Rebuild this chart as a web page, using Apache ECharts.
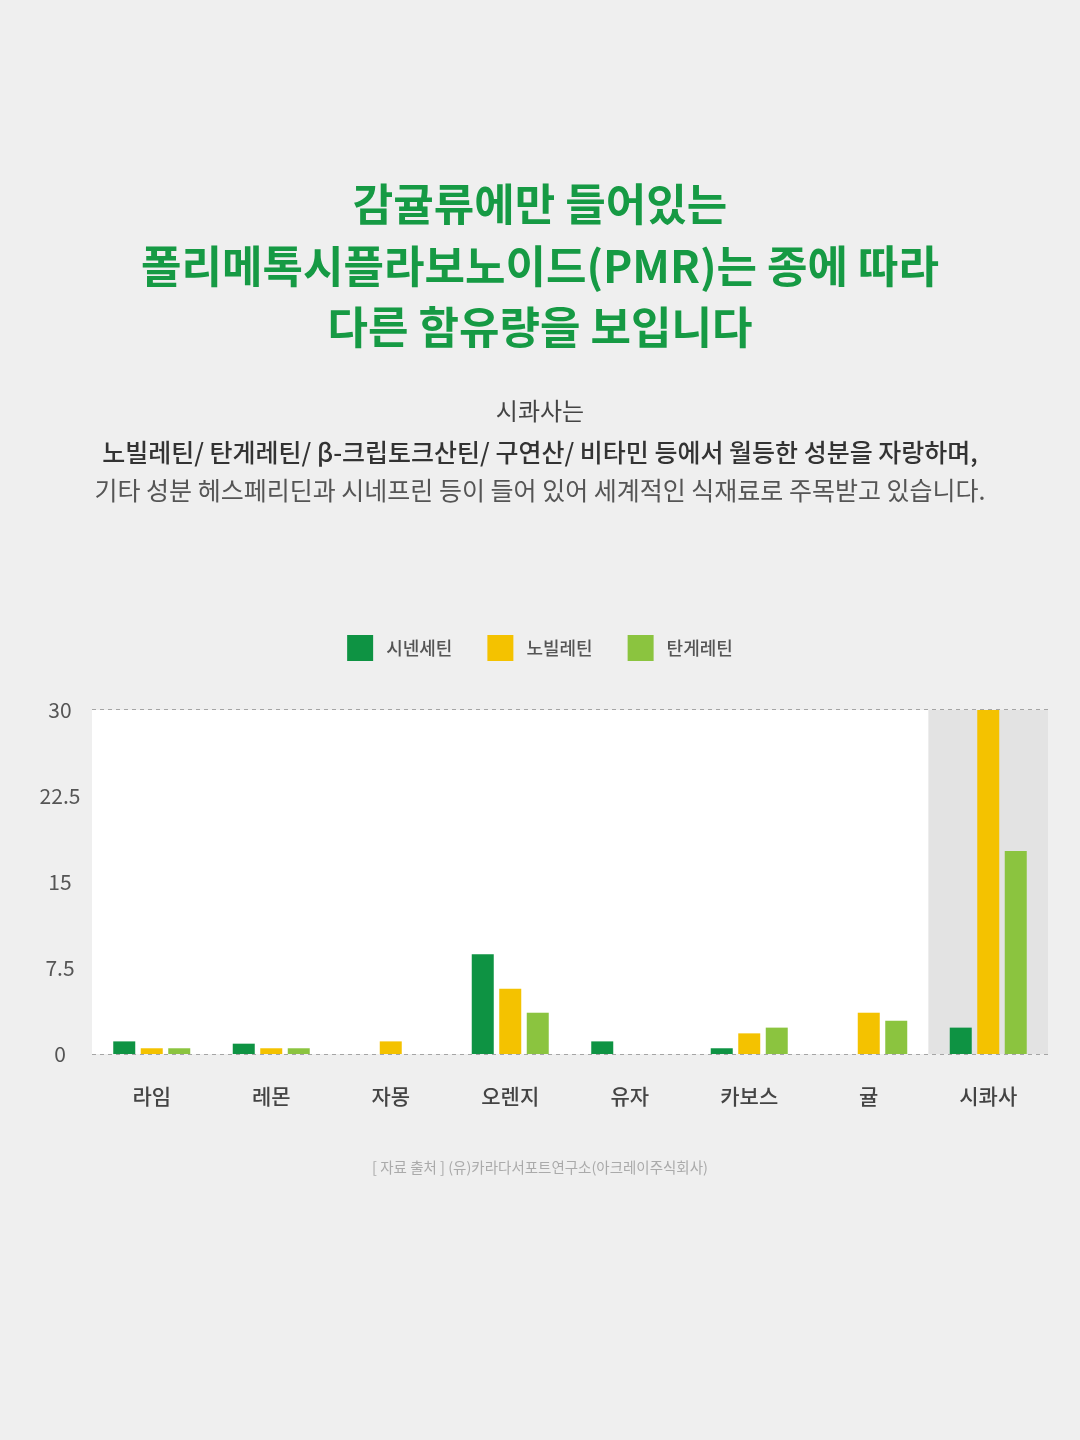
<!DOCTYPE html>
<html>
<head>
<meta charset="utf-8">
<script src="https://cdn.jsdelivr.net/npm/echarts@6/dist/echarts.min.js"></script>
<style>
  body { margin: 0; background: #efefef; }
  #chartContainer { width: 1080px; height: 1440px; }
</style>
</head>
<body>
<div id="chartContainer"></div>
<script>
const categories = ['라임', '레몬', '자몽', '오렌지', '유자', '카보스', '귤', '시콰사'];
const seriesNames = ['시넨세틴', '노빌레틴', '탄게레틴'];
const sinensetin = [1.1, 0.9, 0, 8.7, 1.1, 0.5, 0, 2.3];
const nobiletin = [0.5, 0.5, 1.1, 5.7, 0, 1.8, 3.6, 30];
const tangeretin = [0.5, 0.5, 0, 3.6, 0, 2.3, 2.9, 17.7];

const titleLines = ['감귤류에만 들어있는', '폴리메톡시플라보노이드(PMR)는 종에 따라', '다른 함유량을 보입니다'];
const subLines = [
    '시콰사는',
    '노빌레틴/ 탄게레틴/ β-크립토크산틴/ 구연산/ 비타민 등에서 월등한 성분을 자랑하며,',
    '기타 성분 헤스페리딘과 시네프린 등이 들어 있어 세계적인 식재료로 주목받고 있습니다.'
];
const sourceText = '[ 자료 출처 ] (유)카라다서포트연구소(아크레이주식회사)';

const font = '"Noto Sans CJK KR", "Noto Sans", sans-serif';
const colors = ['#0e9343', '#f4c200', '#8bc43f'];

function textEl(text, y, size, weight, color) {
    return {
        type: 'text',
        left: 'center',
        top: y,
        style: { text: text, fontFamily: font, fontSize: size, fontWeight: weight, fill: color }
    };
}

const myChart = echarts.init(document.getElementById('chartContainer'));

const option = {
    backgroundColor: '#efefef',
    animation: false,
    color: colors,
    graphic: [
        textEl(titleLines[0], 182, 44, 'bold', '#169a44'),
        textEl(titleLines[1], 244, 44, 'bold', '#169a44'),
        textEl(titleLines[2], 305, 44, 'bold', '#169a44'),
        textEl(subLines[0], 399, 24, 'normal', '#444'),
        textEl(subLines[1], 440, 25, 500, '#333'),
        textEl(subLines[2], 478, 25, 'normal', '#555'),
        textEl(sourceText, 1160, 14.5, 'normal', '#aaa')
    ],
    legend: {
        top: 630,
        left: 'center',
        itemWidth: 26,
        itemHeight: 26,
        itemGap: 35,
        icon: 'rect',
        textStyle: { fontFamily: font, fontSize: 18, fontWeight: 500, color: '#555', padding: [0, 0, 0, 8] },
        data: seriesNames
    },
    grid: { left: 92, right: 32, top: 710, bottom: 386 },
    xAxis: {
        type: 'category',
        data: categories,
        axisLine: { show: false },
        axisTick: { show: false },
        axisLabel: { margin: 32, fontFamily: font, fontSize: 21, fontWeight: 500, color: '#444' },
        splitArea: {
            show: true,
            areaStyle: { color: ['#fff', '#fff', '#fff', '#fff', '#fff', '#fff', '#fff', '#e3e3e3'] }
        }
    },
    yAxis: {
        type: 'value',
        min: 0,
        max: 30,
        interval: 7.5,
        axisLine: { show: false },
        axisTick: { show: false },
        axisLabel: { align: 'center', margin: 32, fontFamily: font, fontSize: 21, color: '#555' },
        splitLine: { lineStyle: { type: [4, 4], color: '#a5a5a5', width: 2 } }
    },
    series: [
        { name: seriesNames[0], type: 'bar', data: sinensetin, barWidth: 22, barGap: '25%' },
        { name: seriesNames[1], type: 'bar', data: nobiletin, barWidth: 22, barGap: '25%' },
        { name: seriesNames[2], type: 'bar', data: tangeretin, barWidth: 22, barGap: '25%' }
    ]
};

myChart.setOption(option);
</script>
</body>
</html>
